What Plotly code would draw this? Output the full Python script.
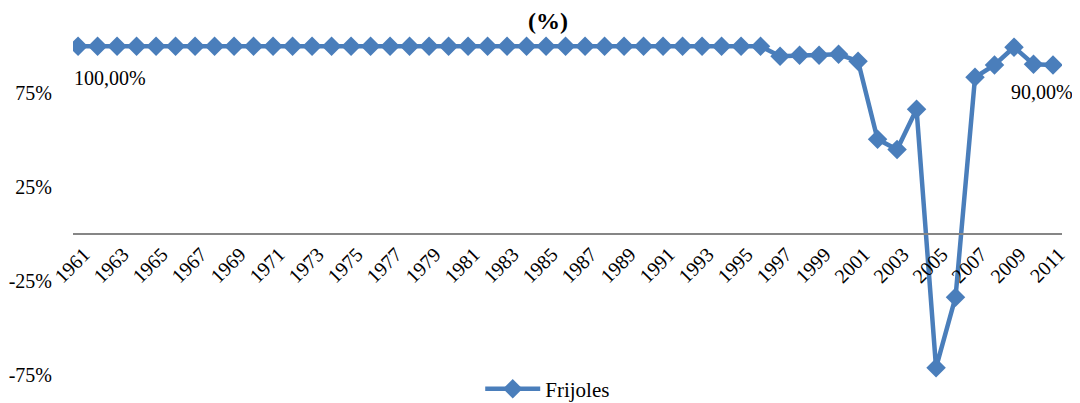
import plotly.graph_objects as go

# Frijoles share (%) by year
years = list(range(1961, 2012))
frijoles = [100.0] * 36 + [
    94.7, 95.2, 95.2, 95.7, 92.0,   # 1997-2001
    50.5, 45.0, 66.5, -71.0, -33.5,  # 2002-2006
    83.5, 90.0, 99.5, 90.4, 90.0,    # 2007-2011
]
year_ticks = list(range(1961, 2012, 2))
y_ticks = [-75, -25, 25, 75]
y_labels = ["-75%", "-25%", "25%", "75%"]

blue = "#4A7EBB"
font_family = "Liberation Serif"

y_min, y_max = -85, 115

fig = go.Figure()
fig.add_trace(go.Scatter(
    x=years, y=frijoles, name="Frijoles",
    mode="lines+markers",
    line=dict(color=blue, width=4.5),
    marker=dict(symbol="diamond", size=15, color=blue),
))

# data labels on first and last point
fig.add_annotation(x=years[0], y=frijoles[0], text="100,00%", showarrow=False,
                   xanchor="left", xshift=-6, yshift=-32,
                   font=dict(family=font_family, size=20, color="black"))
fig.add_annotation(x=years[-1], y=frijoles[-1], text="90,00%", showarrow=False,
                   xanchor="center", xshift=-11, yshift=-27,
                   font=dict(family=font_family, size=20, color="black"))

# chart title
fig.add_annotation(xref="paper", yref="paper", x=0.48, y=0.992, text="<b>(%)</b>",
                   showarrow=False, xanchor="center", yanchor="middle",
                   font=dict(family=font_family, size=24, color="black"))

# page body has an 8px margin, so margins are shifted up/left to compensate
fig.update_layout(
    width=1080, height=403,
    margin=dict(l=65, r=26, t=10, b=17, autoexpand=False),
    plot_bgcolor="white", paper_bgcolor="white",
    font=dict(family=font_family, color="black"),
    showlegend=True,
    legend=dict(orientation="h", x=0.48, xanchor="center", y=0.013, yanchor="middle",
                itemwidth=55,
                font=dict(family=font_family, size=21, color="black"),
                bgcolor="rgba(0,0,0,0)"),
    xaxis=dict(
        range=[1960.74, 2011.46],
        tickvals=year_ticks, tickangle=-45,
        showgrid=False, zeroline=False, automargin=False,
        showline=True, linecolor="#868686", linewidth=1.5,
        anchor="free", position=(0 - y_min) / (y_max - y_min),
        ticks="", ticklabelshift=6,
        tickfont=dict(family=font_family, size=20, color="black"),
    ),
    yaxis=dict(
        range=[y_min, y_max], automargin=False,
        tickvals=y_ticks, ticktext=y_labels,
        showgrid=False, zeroline=False, showline=False,
        ticks="", ticklabelstandoff=20,
        tickfont=dict(family=font_family, size=20, color="black"),
    ),
)

fig.write_html("out.html")
